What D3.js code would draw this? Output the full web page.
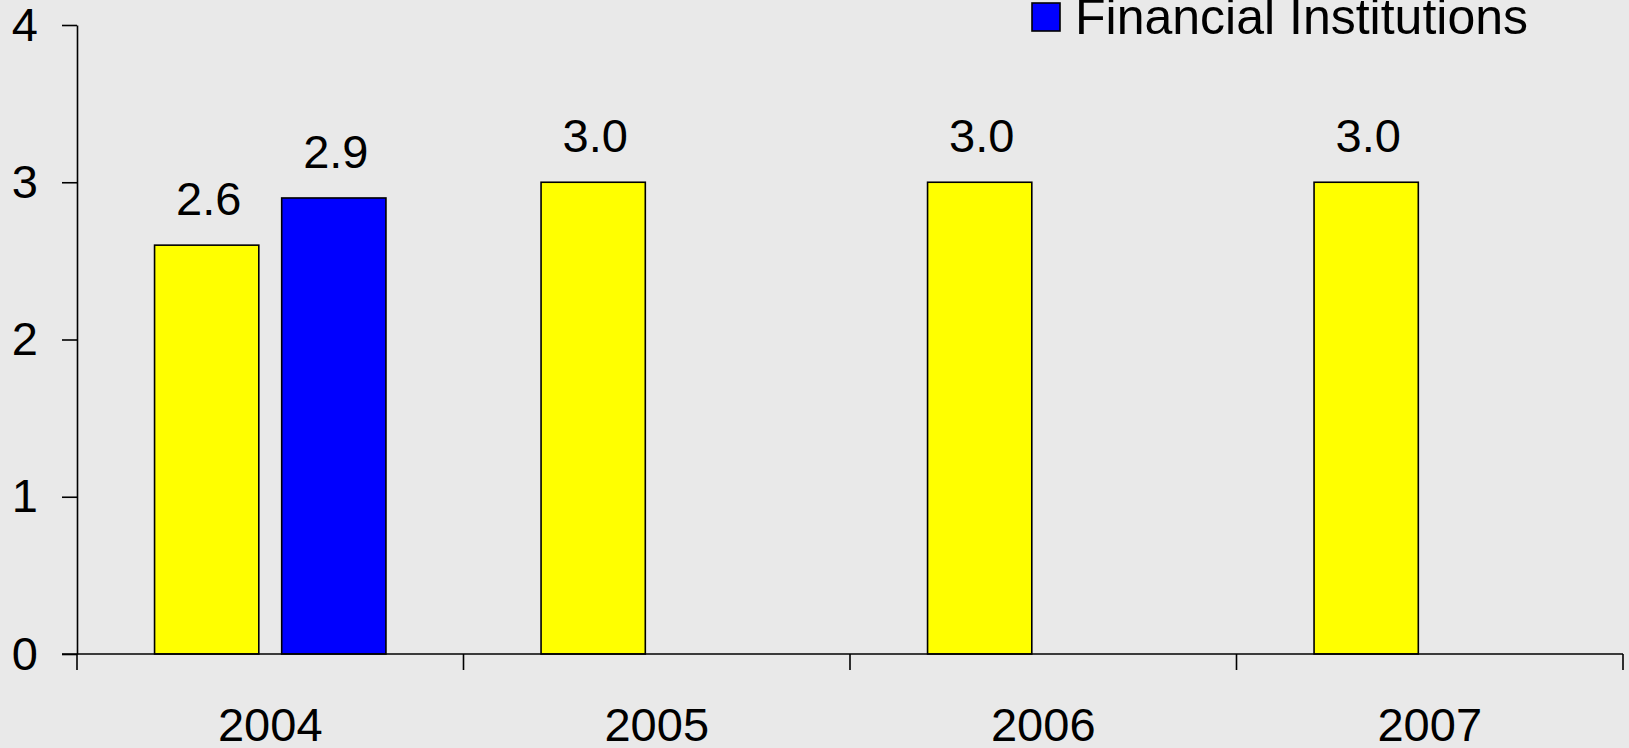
<!DOCTYPE html>
<html>
<head>
<meta charset="utf-8">
<script src="https://cdn.jsdelivr.net/npm/d3@7"></script>
<style>
  html, body { margin: 0; padding: 0; background: #e9e9e9; overflow: hidden; }
  svg { display: block; font-family: "Liberation Sans", Arial, sans-serif; }
</style>
</head>
<body>
<svg id="chart" width="1629" height="748"></svg>
<script>
const years = ['2004', '2005', '2006', '2007'];
const seriesNames = ['series1', 'Financial Institutions'];
const series1 = [2.6, 3.0, 3.0, 3.0];
const financialInstitutions = [2.9, null, null, null];
const yTicks = [0, 1, 2, 3, 4];
const colors = ['#ffff00', '#0000ff'];

const svg = d3.select('#chart');
const plotLeft = 77, plotRight = 1623, plotTop = 25, plotBottom = 654;

const x = d3.scaleBand().domain(years).range([plotLeft, plotRight]);
const xInner = d3.scaleBand().domain(seriesNames)
  .range([0, x.bandwidth()])
  .paddingInner(0.18)
  .paddingOuter(0.61);
const y = d3.scaleLinear().domain([0, 4]).range([plotBottom, plotTop]);

const rows = [];
years.forEach((yr, i) => {
  [series1, financialInstitutions].forEach((vals, s) => {
    if (vals[i] != null) rows.push({ year: yr, series: seriesNames[s], value: vals[i], color: colors[s] });
  });
});

// bars
svg.append('g').selectAll('rect')
  .data(rows)
  .enter()
  .append('rect')
  .attr('x', d => x(d.year) + xInner(d.series))
  .attr('y', d => y(d.value))
  .attr('width', xInner.bandwidth())
  .attr('height', d => y(0) - y(d.value))
  .attr('fill', d => d.color)
  .attr('stroke', '#000')
  .attr('stroke-width', 1.6);

// value labels
svg.append('g').selectAll('text')
  .data(rows)
  .enter()
  .append('text')
  .attr('x', d => x(d.year) + xInner(d.series) + xInner.bandwidth() / 2 + 2)
  .attr('y', d => y(d.value) - 30)
  .attr('text-anchor', 'middle')
  .attr('font-size', 47)
  .attr('fill', '#000')
  .text(d => d.value.toFixed(1));

// y axis
const yAxis = d3.axisLeft(y).tickValues(yTicks).tickFormat(d3.format('d'))
  .tickSize(15).tickSizeOuter(0).tickPadding(24);
const gy = svg.append('g').attr('transform', `translate(${plotLeft},0)`).call(yAxis);
gy.selectAll('text').attr('font-size', 47).attr('fill', '#000');
gy.selectAll('line, path').attr('stroke-width', 1.6);

// x axis: labels at band centres, ticks at band boundaries
const xAxis = d3.axisBottom(x).tickSize(0).tickPadding(54);
const gx = svg.append('g').attr('transform', `translate(0,${plotBottom})`).call(xAxis);
gx.select('.domain').remove();
gx.selectAll('text').attr('font-size', 47).attr('fill', '#000');

svg.append('line')
  .attr('x1', plotLeft - 15).attr('x2', plotRight)
  .attr('y1', plotBottom).attr('y2', plotBottom)
  .attr('stroke', '#000').attr('stroke-width', 1.6);
svg.append('g').selectAll('line')
  .data(years.map(d => x(d)).concat([x.range()[1]]))
  .enter()
  .append('line')
  .attr('x1', d => d).attr('x2', d => d)
  .attr('y1', plotBottom).attr('y2', plotBottom + 16)
  .attr('stroke', '#000').attr('stroke-width', 1.6);

// legend (only the visible entry)
const legend = svg.append('g').attr('transform', 'translate(1032,3)');
legend.append('rect')
  .attr('width', 28).attr('height', 28)
  .attr('fill', colors[1]).attr('stroke', '#000').attr('stroke-width', 1.6);
legend.append('text')
  .attr('x', 43).attr('y', 31)
  .attr('font-size', 50)
  .attr('fill', '#000')
  .text(seriesNames[1]);
</script>
</body>
</html>
